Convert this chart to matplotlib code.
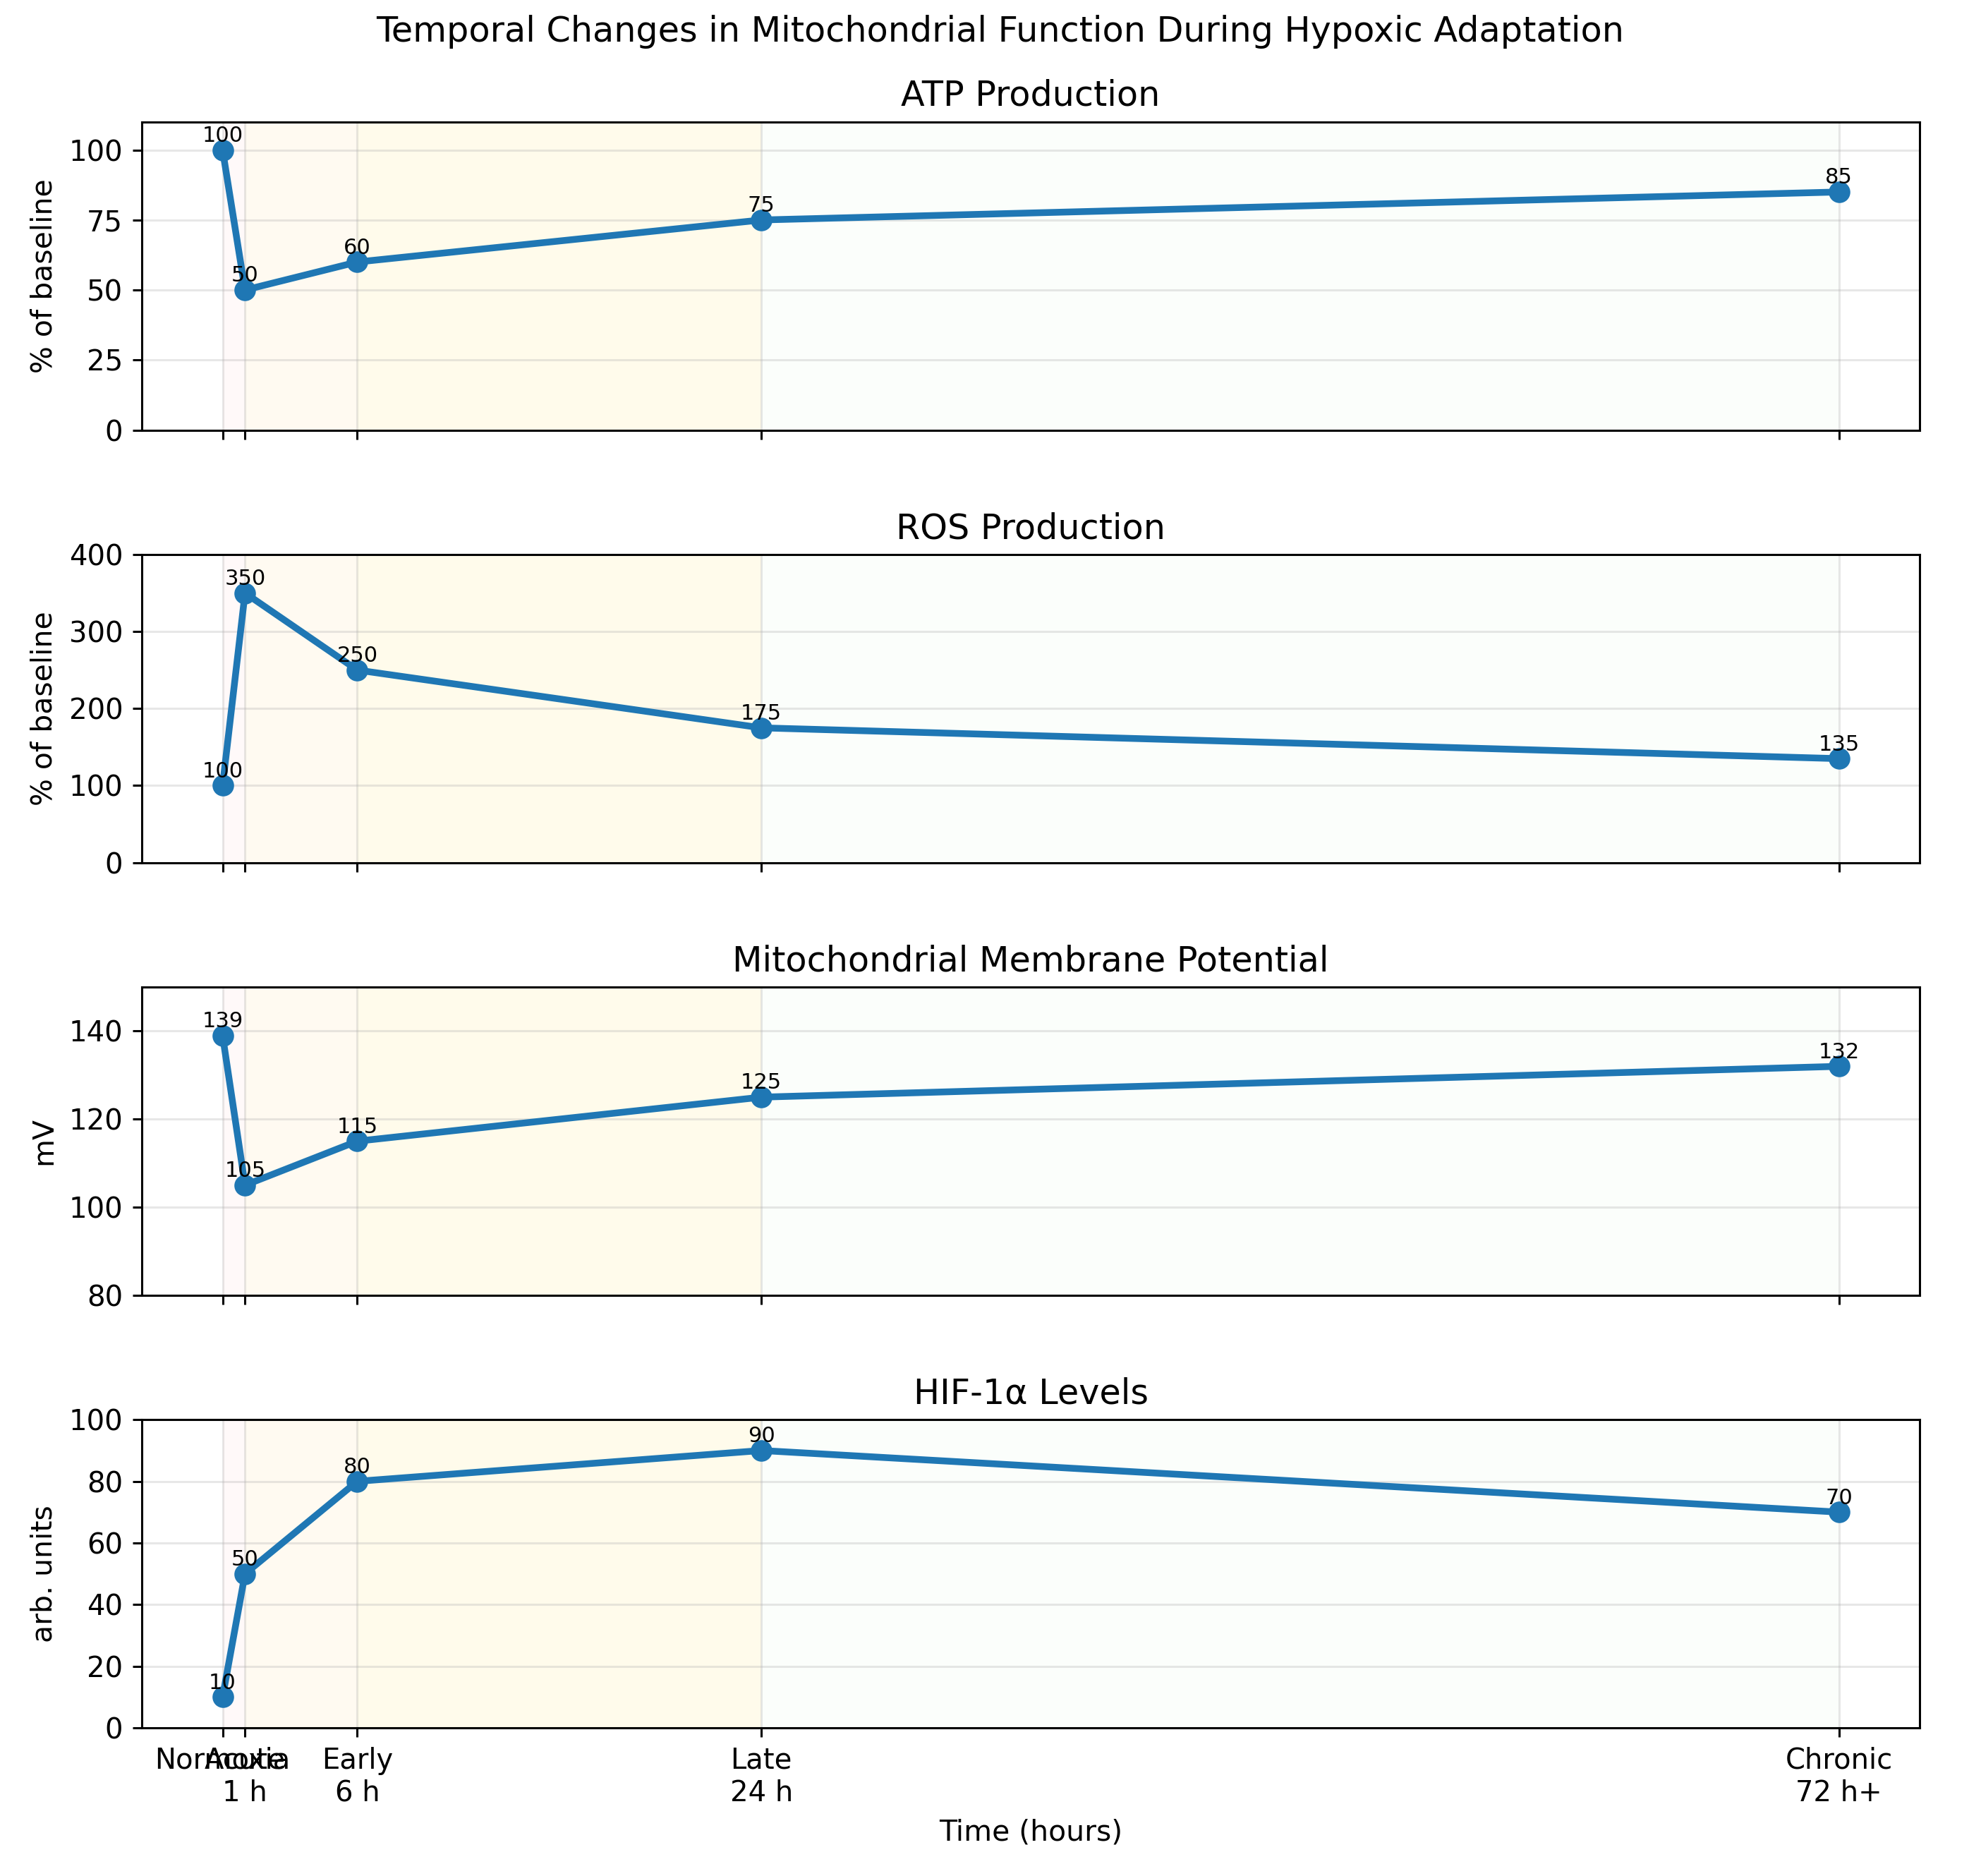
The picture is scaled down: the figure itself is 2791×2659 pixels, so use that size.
import matplotlib
matplotlib.use("Agg")
import matplotlib.pyplot as plt

time_points = [0, 1, 6, 24, 72]
time_labels = ['Normoxia', 'Acute\n1 h', 'Early\n6 h', 'Late\n24 h', 'Chronic\n72 h+']

atp = [100, 50, 60, 75, 85]
ros = [100, 350, 250, 175, 135]
mmp = [139, 105, 115, 125, 132]
hif = [10, 50, 80, 90, 70]

panel_titles = ['ATP Production', 'ROS Production',
                'Mitochondrial Membrane Potential', 'HIF-1\u03b1 Levels']
panel_units = ['% of baseline', '% of baseline', 'mV', 'arb. units']
panel_ylims = [(0, 110), (0, 400), (80, 150), (0, 100)]

phase_bounds = [(0, 1), (1, 6), (6, 24), (24, 72)]
phase_colors = [('red', 0.025), ('orange', 0.055), ('gold', 0.08), ('lightgreen', 0.03)]

dpi = 275
fig, axes = plt.subplots(4, 1, figsize=(2791 / dpi, 2659 / dpi), dpi=dpi, sharex=True)
fig.subplots_adjust(left=0.072, right=0.975, top=0.935, bottom=0.079, hspace=0.404)

series = [atp, ros, mmp, hif]
for ax, vals, title, unit, ylim in zip(axes, series, panel_titles, panel_units, panel_ylims):
    for (a, b), (c, al) in zip(phase_bounds, phase_colors):
        ax.axvspan(a, b, color=c, alpha=al, lw=0)
    ax.plot(time_points, vals, '-o', color='#1f77b4', lw=2.5, markersize=7)
    for x, v in zip(time_points, vals):
        ax.annotate(str(v), (x, v), textcoords='offset points', xytext=(0, 1.5),
                    ha='center', va='bottom', fontsize=8)
    ax.set_title(title, fontsize=12.9)
    ax.set_ylabel(unit, fontsize=10.7)
    ax.set_ylim(*ylim)
    ax.tick_params(labelsize=10.5)
    ax.grid(True, alpha=0.3)

axes[1].set_yticks([0, 100, 200, 300, 400])
axes[-1].set_xticks(time_points)
axes[-1].set_xticklabels(time_labels)
axes[-1].set_xlabel('Time (hours)', fontsize=10.7)

fig.suptitle('Temporal Changes in Mitochondrial Function During Hypoxic Adaptation',
             fontsize=12.9, x=0.508, y=0.983, va='center')

fig.savefig('out.png', dpi=dpi)
